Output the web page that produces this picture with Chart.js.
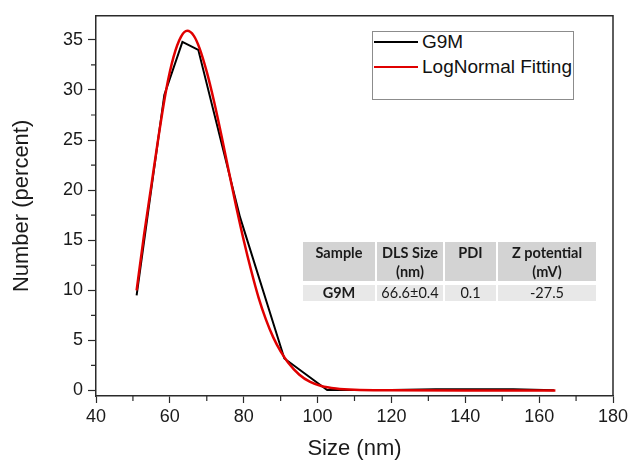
<!DOCTYPE html>
<html>
<head>
<meta charset="utf-8">
<script src="https://cdn.jsdelivr.net/npm/chart.js"></script>
<style>
    body { margin: 0; background: #fff; }
    #wrap { position: relative; width: 632px; height: 463px; }
    #legend {
        position: absolute; left: 372px; top: 31px; width: 200px; height: 67px;
        border: 1px solid #8c8c8c; background: #fff;
        font-family: "Liberation Sans", Arial, sans-serif; font-size: 19px; color: #111;
    }
    .item { position: absolute; left: 1px; height: 22px; line-height: 22px; white-space: nowrap; }
    .item span.ln { position: absolute; left: 0; top: 10px; width: 44px; height: 2px; }
    .item span.tx { position: absolute; left: 48px; top: 0; }
    #info {
        position: absolute; left: 301px; top: 238px;
        border-collapse: separate; border-spacing: 2px 4px;
        font-family: Lato, "Open Sans", sans-serif; font-size: 14.5px; color: #1a1a1a;
    }
    #info th { background: #d3d3d3; font-weight: bold; height: 35px; line-height: 19px;
               vertical-align: top; padding: 1px 0 0 0; text-align: center; }
    #info td { background: #e8e8e8; height: 16px; line-height: 16px; padding: 0; text-align: center; }
    #info .b { font-weight: bold; }
</style>
</head>
<body>
<div id="wrap">
    <canvas id="dlsChart" width="632" height="463"></canvas>
    <div id="legend"></div>
    <table id="info">
        <tr>
            <th style="width:72px">Sample</th>
            <th style="width:66px">DLS Size<br>(nm)</th>
            <th style="width:51px">PDI</th>
            <th style="width:98px">Z potential<br>(mV)</th>
        </tr>
        <tr>
            <td class="b">G9M</td>
            <td>66.6±0.4</td>
            <td>0.1</td>
            <td>-27.5</td>
        </tr>
    </table>
</div>
<script>
// measured data (black)
const sizeG9M   = [51, 58.5, 63.4, 67.7, 79, 91, 102.6, 110, 120, 132, 153, 164];
const numberG9M = [9.5, 29.5, 34.8, 34.0, 17.3, 3.2, 0.05, 0.05, 0.05, 0.12, 0.12, 0.03];

// lognormal fit (red)
const sizeFit   = [51, 53, 55, 57, 59, 61, 63, 64.7, 66.5, 68, 70, 72, 74, 76, 78, 80, 82, 84, 86, 88, 90, 92, 95, 98, 101, 105, 110, 120, 140, 164.4];
const numberFit = [10, 15.5, 20.5, 25.5, 30, 33.3, 35.3, 35.9, 35.4, 34.2, 31.8, 28.8, 25.4, 21.8, 18.3, 15, 12, 9.3, 7.1, 5.3, 3.9, 2.8, 1.6, 0.85, 0.45, 0.2, 0.07, 0.02, 0, 0];

const xTicks = [40, 60, 80, 100, 120, 140, 160, 180];
const yTicks = [0, 5, 10, 15, 20, 25, 30, 35];

const axisColor = '#2a2a2a';
const fontFam = '"Liberation Sans", Arial, sans-serif';

const toPoints = (xs, ys) => xs.map((x, i) => ({ x: x, y: ys[i] }));

// box + minor ticks
const frame = {
    id: 'frame',
    afterDraw(chart) {
        const c = chart.ctx, a = chart.chartArea;
        const sx = chart.scales.x, sy = chart.scales.y;
        c.save();
        c.strokeStyle = axisColor;
        c.lineWidth = 1.5;
        c.beginPath();
        c.moveTo(a.left, a.top); c.lineTo(a.right, a.top); c.lineTo(a.right, a.bottom);
        c.stroke();
        c.lineWidth = 1.2;
        c.beginPath();
        for (let i = 0; i < xTicks.length - 1; i++) {
            const px = sx.getPixelForValue((xTicks[i] + xTicks[i + 1]) / 2);
            c.moveTo(px, a.bottom); c.lineTo(px, a.bottom + 5);
        }
        for (let i = 0; i < yTicks.length; i++) {
            const v = yTicks[i] + 2.5;
            if (v > sy.max) continue;
            const py = sy.getPixelForValue(v);
            c.moveTo(a.left, py); c.lineTo(a.left - 5, py);
        }
        c.stroke();
        c.restore();
    }
};

const chart = new Chart(document.getElementById('dlsChart').getContext('2d'), {
    type: 'line',
    data: {
        datasets: [
            {
                label: 'G9M',
                data: toPoints(sizeG9M, numberG9M),
                borderColor: '#000000',
                borderWidth: 2,
                pointRadius: 0,
                tension: 0,
                order: 2
            },
            {
                label: 'LogNormal Fitting',
                data: toPoints(sizeFit, numberFit),
                borderColor: '#e00000',
                borderWidth: 2.5,
                pointRadius: 0,
                cubicInterpolationMode: 'monotone',
                order: 1
            }
        ]
    },
    options: {
        responsive: false,
        animation: false,
        layout: { padding: { top: 15, right: 19, left: 0, bottom: 0 } },
        plugins: { legend: { display: false }, tooltip: { enabled: false } },
        scales: {
            x: {
                type: 'linear',
                min: 40,
                max: 180,
                afterFit: s => { s.height = 67; },
                afterBuildTicks: s => { s.ticks = xTicks.map(v => ({ value: v })); },
                ticks: { font: { family: fontFam, size: 18 }, color: '#1a1a1a', padding: 3, maxRotation: 0 },
                grid: { drawOnChartArea: false, drawTicks: true, tickLength: 7, tickColor: axisColor, tickWidth: 1.2 },
                border: { display: true, color: axisColor, width: 1.5 },
                title: { display: true, text: 'Size (nm)', font: { family: fontFam, size: 22 }, color: '#1a1a1a', padding: { top: 0, bottom: 1 } }
            },
            y: {
                min: -0.55,
                max: 37.4,
                afterFit: s => { s.width = 96; },
                afterBuildTicks: s => { s.ticks = yTicks.map(v => ({ value: v })); },
                ticks: { font: { family: fontFam, size: 18 }, color: '#1a1a1a', padding: 5 },
                grid: { drawOnChartArea: false, drawTicks: true, tickLength: 8, tickColor: axisColor, tickWidth: 1.2 },
                border: { display: true, color: axisColor, width: 1.5 },
                title: { display: true, text: 'Number (percent)', font: { family: fontFam, size: 22 }, color: '#1a1a1a', padding: { top: 9, bottom: 0 } }
            }
        }
    },
    plugins: [frame]
});

// legend inside the plot, built from the datasets
const legend = document.getElementById('legend');
chart.data.datasets.forEach((ds, i) => {
    const row = document.createElement('div');
    row.className = 'item';
    row.style.top = (-1 + i * 25) + 'px';
    row.innerHTML = '<span class="ln" style="background:' + ds.borderColor + '"></span><span class="tx">' + ds.label + '</span>';
    legend.appendChild(row);
});
</script>
</body>
</html>
